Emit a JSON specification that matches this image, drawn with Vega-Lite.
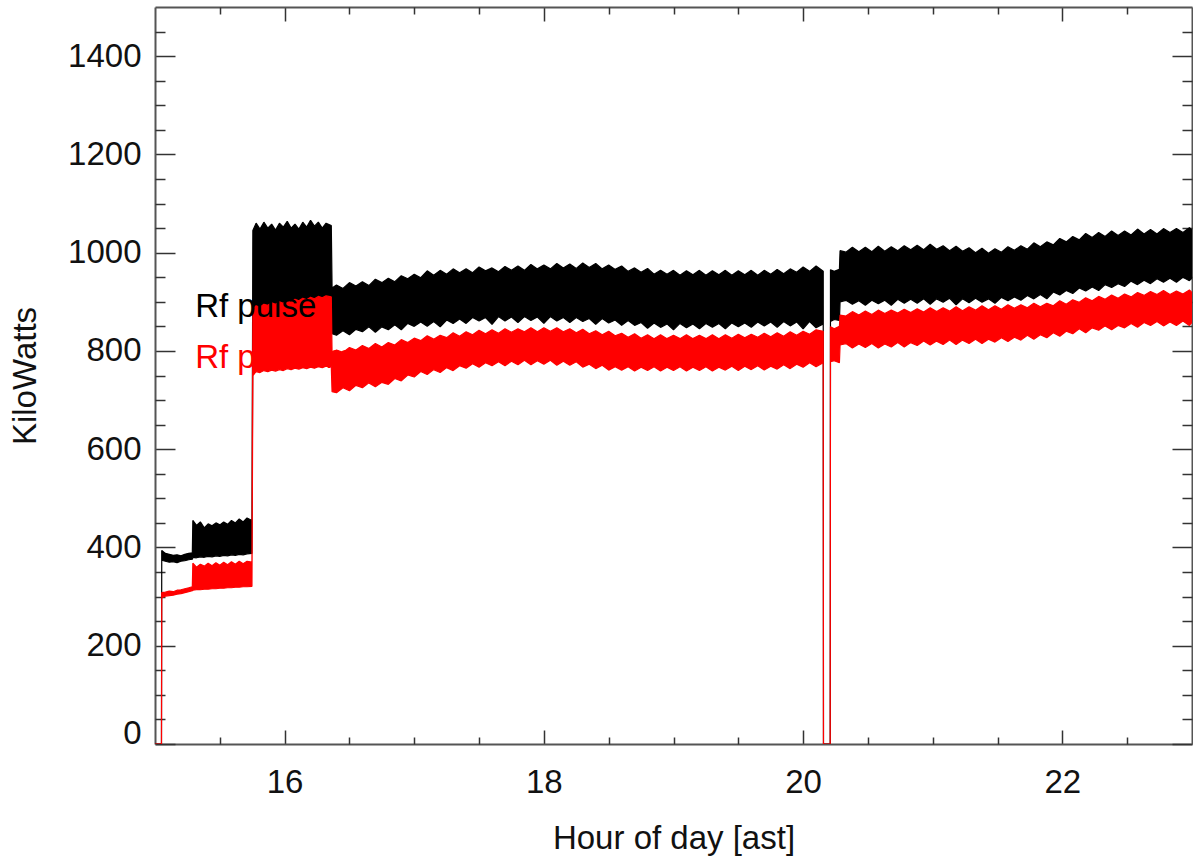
{
"$schema":"https://vega.github.io/schema/vega-lite/v6.json",
"width":1037,"height":737,
"autosize":{"type":"none"},
"padding":{"left":155,"top":7,"right":1,"bottom":117},
"background":"white",
"config":{"font":"Liberation Sans","view":{"stroke":null},"axis":{"grid":false,"domainColor":"#555","domainWidth":2,"tickColor":"#333","tickWidth":1.5,"labelColor":"#111","titleColor":"#111","labelFontSize":33,"titleFontSize":33,"titleFontWeight":"normal"}},
"datasets":{
"labels":[{"t":15.31,"v":869,"label":"Rf pulse","s":"peak"},{"t":15.31,"v":765,"label":"Rf pulse mean","s":"mean"}],
"dummy":[{"t":15,"v":0}],
"bands":[
{"s":"peak","t":15.0,"lo":0,"hi":0},{"s":"peak","t":15.05,"lo":0,"hi":0},{"s":"peak","t":15.052,"lo":374,"hi":394},{"s":"peak","t":15.08,"lo":372,"hi":388},{"s":"peak","t":15.11,"lo":370,"hi":386},{"s":"peak","t":15.14,"lo":371,"hi":384},{"s":"peak","t":15.17,"lo":369,"hi":385},{"s":"peak","t":15.2,"lo":372,"hi":383},{"s":"peak","t":15.23,"lo":373,"hi":386},{"s":"peak","t":15.26,"lo":375,"hi":388},{"s":"peak","t":15.288,"lo":376,"hi":389},
{"s":"peak","t":15.292,"lo":380,"hi":455},{"s":"peak","t":15.32,"lo":379,"hi":445},{"s":"peak","t":15.35,"lo":381,"hi":452},{"s":"peak","t":15.38,"lo":380,"hi":440},{"s":"peak","t":15.41,"lo":382,"hi":448},{"s":"peak","t":15.44,"lo":381,"hi":444},{"s":"peak","t":15.47,"lo":383,"hi":450},{"s":"peak","t":15.5,"lo":382,"hi":446},{"s":"peak","t":15.53,"lo":384,"hi":452},{"s":"peak","t":15.56,"lo":383,"hi":447},{"s":"peak","t":15.59,"lo":385,"hi":455},{"s":"peak","t":15.62,"lo":384,"hi":450},{"s":"peak","t":15.65,"lo":386,"hi":458},{"s":"peak","t":15.68,"lo":385,"hi":452},{"s":"peak","t":15.71,"lo":387,"hi":460},{"s":"peak","t":15.748,"lo":388,"hi":455},
{"s":"peak","t":15.755,"lo":860,"hi":1045},{"s":"peak","t":15.78,"lo":865,"hi":1060},{"s":"peak","t":15.81,"lo":866,"hi":1048},{"s":"peak","t":15.84,"lo":868,"hi":1062},{"s":"peak","t":15.87,"lo":870,"hi":1050},{"s":"peak","t":15.9,"lo":870,"hi":1058},{"s":"peak","t":15.93,"lo":872,"hi":1046},{"s":"peak","t":15.96,"lo":873,"hi":1060},{"s":"peak","t":15.99,"lo":874,"hi":1052},{"s":"peak","t":16.02,"lo":875,"hi":1064},{"s":"peak","t":16.05,"lo":876,"hi":1050},{"s":"peak","t":16.08,"lo":877,"hi":1058},{"s":"peak","t":16.11,"lo":878,"hi":1048},{"s":"peak","t":16.14,"lo":880,"hi":1062},{"s":"peak","t":16.17,"lo":880,"hi":1052},{"s":"peak","t":16.2,"lo":882,"hi":1066},{"s":"peak","t":16.23,"lo":882,"hi":1054},{"s":"peak","t":16.26,"lo":884,"hi":1062},{"s":"peak","t":16.29,"lo":885,"hi":1050},{"s":"peak","t":16.32,"lo":886,"hi":1060},{"s":"peak","t":16.36,"lo":886,"hi":1055},
{"s":"peak","t":16.366,"lo":835,"hi":928},{"s":"peak","t":16.4,"lo":832,"hi":934},{"s":"peak","t":16.45,"lo":841,"hi":927},{"s":"peak","t":16.5,"lo":833,"hi":939},{"s":"peak","t":16.55,"lo":844,"hi":932},{"s":"peak","t":16.6,"lo":839,"hi":941},{"s":"peak","t":16.65,"lo":849,"hi":933},{"s":"peak","t":16.7,"lo":838,"hi":946},{"s":"peak","t":16.75,"lo":849,"hi":939},{"s":"peak","t":16.8,"lo":843,"hi":948},{"s":"peak","t":16.85,"lo":853,"hi":941},{"s":"peak","t":16.9,"lo":843,"hi":953},{"s":"peak","t":16.95,"lo":856,"hi":947},{"s":"peak","t":17.0,"lo":850,"hi":956},{"s":"peak","t":17.05,"lo":859,"hi":949},{"s":"peak","t":17.1,"lo":850,"hi":963},{"s":"peak","t":17.15,"lo":860,"hi":954},{"s":"peak","t":17.2,"lo":849,"hi":964},{"s":"peak","t":17.25,"lo":863,"hi":956},{"s":"peak","t":17.3,"lo":856,"hi":967},{"s":"peak","t":17.35,"lo":865,"hi":959},{"s":"peak","t":17.4,"lo":856,"hi":967},{"s":"peak","t":17.45,"lo":868,"hi":959},{"s":"peak","t":17.5,"lo":861,"hi":971},{"s":"peak","t":17.55,"lo":868,"hi":963},{"s":"peak","t":17.6,"lo":854,"hi":969},{"s":"peak","t":17.65,"lo":870,"hi":961},{"s":"peak","t":17.7,"lo":861,"hi":972},{"s":"peak","t":17.75,"lo":869,"hi":964},{"s":"peak","t":17.8,"lo":858,"hi":973},{"s":"peak","t":17.85,"lo":870,"hi":964},{"s":"peak","t":17.9,"lo":862,"hi":976},{"s":"peak","t":17.95,"lo":869,"hi":967},{"s":"peak","t":18.0,"lo":856,"hi":975},{"s":"peak","t":18.05,"lo":870,"hi":967},{"s":"peak","t":18.1,"lo":861,"hi":978},{"s":"peak","t":18.15,"lo":868,"hi":969},{"s":"peak","t":18.2,"lo":858,"hi":977},{"s":"peak","t":18.25,"lo":868,"hi":968},{"s":"peak","t":18.3,"lo":860,"hi":979},{"s":"peak","t":18.35,"lo":866,"hi":970},{"s":"peak","t":18.4,"lo":854,"hi":978},{"s":"peak","t":18.45,"lo":866,"hi":967},{"s":"peak","t":18.5,"lo":857,"hi":975},{"s":"peak","t":18.55,"lo":863,"hi":966},{"s":"peak","t":18.6,"lo":852,"hi":973},{"s":"peak","t":18.65,"lo":862,"hi":962},{"s":"peak","t":18.7,"lo":852,"hi":969},{"s":"peak","t":18.75,"lo":858,"hi":960},{"s":"peak","t":18.8,"lo":846,"hi":968},{"s":"peak","t":18.85,"lo":857,"hi":956},{"s":"peak","t":18.9,"lo":848,"hi":964},{"s":"peak","t":18.95,"lo":855,"hi":956},{"s":"peak","t":19.0,"lo":843,"hi":964},{"s":"peak","t":19.05,"lo":856,"hi":954},{"s":"peak","t":19.1,"lo":847,"hi":963},{"s":"peak","t":19.15,"lo":855,"hi":955},{"s":"peak","t":19.2,"lo":845,"hi":964},{"s":"peak","t":19.25,"lo":856,"hi":954},{"s":"peak","t":19.3,"lo":848,"hi":963},{"s":"peak","t":19.35,"lo":856,"hi":955},{"s":"peak","t":19.4,"lo":845,"hi":964},{"s":"peak","t":19.45,"lo":857,"hi":954},{"s":"peak","t":19.5,"lo":849,"hi":963},{"s":"peak","t":19.55,"lo":857,"hi":955},{"s":"peak","t":19.6,"lo":848,"hi":964},{"s":"peak","t":19.65,"lo":859,"hi":954},{"s":"peak","t":19.7,"lo":851,"hi":964},{"s":"peak","t":19.75,"lo":859,"hi":956},{"s":"peak","t":19.8,"lo":848,"hi":966},{"s":"peak","t":19.85,"lo":860,"hi":957},{"s":"peak","t":19.9,"lo":851,"hi":967},{"s":"peak","t":19.95,"lo":859,"hi":960},{"s":"peak","t":20.0,"lo":845,"hi":971},{"s":"peak","t":20.05,"lo":860,"hi":962},{"s":"peak","t":20.1,"lo":847,"hi":973},{"s":"peak","t":20.155,"lo":855,"hi":962},
{"s":"peak","t":20.157,"lo":0,"hi":0},{"s":"peak","t":20.209,"lo":0,"hi":0},
{"s":"peak","t":20.211,"lo":860,"hi":965},{"s":"peak","t":20.24,"lo":864,"hi":962},{"s":"peak","t":20.28,"lo":862,"hi":966},
{"s":"peak","t":20.285,"lo":900,"hi":1004},{"s":"peak","t":20.33,"lo":903,"hi":1001},{"s":"peak","t":20.38,"lo":895,"hi":1011},{"s":"peak","t":20.43,"lo":902,"hi":1002},{"s":"peak","t":20.48,"lo":893,"hi":1011},{"s":"peak","t":20.53,"lo":903,"hi":1002},{"s":"peak","t":20.58,"lo":896,"hi":1013},{"s":"peak","t":20.63,"lo":903,"hi":1003},{"s":"peak","t":20.68,"lo":893,"hi":1012},{"s":"peak","t":20.73,"lo":905,"hi":1004},{"s":"peak","t":20.78,"lo":897,"hi":1014},{"s":"peak","t":20.83,"lo":905,"hi":1006},{"s":"peak","t":20.88,"lo":897,"hi":1015},{"s":"peak","t":20.93,"lo":906,"hi":1006},{"s":"peak","t":20.98,"lo":895,"hi":1017},{"s":"peak","t":21.03,"lo":906,"hi":1007},{"s":"peak","t":21.08,"lo":899,"hi":1014},{"s":"peak","t":21.13,"lo":907,"hi":1004},{"s":"peak","t":21.18,"lo":894,"hi":1013},{"s":"peak","t":21.23,"lo":906,"hi":1003},{"s":"peak","t":21.28,"lo":898,"hi":1010},{"s":"peak","t":21.33,"lo":907,"hi":1000},{"s":"peak","t":21.38,"lo":899,"hi":1009},{"s":"peak","t":21.43,"lo":906,"hi":999},{"s":"peak","t":21.48,"lo":897,"hi":1008},{"s":"peak","t":21.53,"lo":909,"hi":1001},{"s":"peak","t":21.58,"lo":902,"hi":1012},{"s":"peak","t":21.63,"lo":910,"hi":1005},{"s":"peak","t":21.68,"lo":903,"hi":1014},{"s":"peak","t":21.73,"lo":913,"hi":1007},{"s":"peak","t":21.78,"lo":906,"hi":1020},{"s":"peak","t":21.83,"lo":915,"hi":1012},{"s":"peak","t":21.88,"lo":906,"hi":1022},{"s":"peak","t":21.93,"lo":920,"hi":1016},{"s":"peak","t":21.98,"lo":914,"hi":1029},{"s":"peak","t":22.03,"lo":923,"hi":1022},{"s":"peak","t":22.08,"lo":917,"hi":1033},{"s":"peak","t":22.13,"lo":928,"hi":1026},{"s":"peak","t":22.18,"lo":922,"hi":1039},{"s":"peak","t":22.23,"lo":930,"hi":1031},{"s":"peak","t":22.28,"lo":923,"hi":1041},{"s":"peak","t":22.33,"lo":935,"hi":1033},{"s":"peak","t":22.38,"lo":929,"hi":1044},{"s":"peak","t":22.43,"lo":937,"hi":1035},{"s":"peak","t":22.48,"lo":931,"hi":1044},{"s":"peak","t":22.53,"lo":942,"hi":1036},{"s":"peak","t":22.58,"lo":935,"hi":1048},{"s":"peak","t":22.63,"lo":944,"hi":1038},{"s":"peak","t":22.68,"lo":937,"hi":1047},{"s":"peak","t":22.73,"lo":947,"hi":1038},{"s":"peak","t":22.78,"lo":940,"hi":1049},{"s":"peak","t":22.83,"lo":948,"hi":1041},{"s":"peak","t":22.88,"lo":940,"hi":1049},{"s":"peak","t":22.93,"lo":950,"hi":1041},{"s":"peak","t":22.98,"lo":943,"hi":1051},{"s":"peak","t":23.0,"lo":948,"hi":1046},
{"s":"mean","t":15.0,"lo":0,"hi":0},{"s":"mean","t":15.05,"lo":0,"hi":0},{"s":"mean","t":15.052,"lo":298,"hi":308},{"s":"mean","t":15.08,"lo":301,"hi":309},{"s":"mean","t":15.11,"lo":302,"hi":311},{"s":"mean","t":15.14,"lo":303,"hi":310},{"s":"mean","t":15.17,"lo":305,"hi":313},{"s":"mean","t":15.2,"lo":306,"hi":314},{"s":"mean","t":15.23,"lo":308,"hi":316},{"s":"mean","t":15.26,"lo":310,"hi":318},{"s":"mean","t":15.288,"lo":312,"hi":320},
{"s":"mean","t":15.292,"lo":313,"hi":368},{"s":"mean","t":15.32,"lo":314,"hi":360},{"s":"mean","t":15.35,"lo":314,"hi":366},{"s":"mean","t":15.38,"lo":315,"hi":362},{"s":"mean","t":15.41,"lo":315,"hi":368},{"s":"mean","t":15.44,"lo":316,"hi":363},{"s":"mean","t":15.47,"lo":316,"hi":369},{"s":"mean","t":15.5,"lo":317,"hi":364},{"s":"mean","t":15.53,"lo":317,"hi":370},{"s":"mean","t":15.56,"lo":318,"hi":365},{"s":"mean","t":15.59,"lo":318,"hi":371},{"s":"mean","t":15.62,"lo":319,"hi":366},{"s":"mean","t":15.65,"lo":319,"hi":372},{"s":"mean","t":15.68,"lo":320,"hi":367},{"s":"mean","t":15.71,"lo":320,"hi":372},{"s":"mean","t":15.748,"lo":321,"hi":370},
{"s":"mean","t":15.755,"lo":750,"hi":885},{"s":"mean","t":15.78,"lo":758,"hi":892},{"s":"mean","t":15.81,"lo":756,"hi":889},{"s":"mean","t":15.84,"lo":760,"hi":895},{"s":"mean","t":15.87,"lo":758,"hi":893},{"s":"mean","t":15.9,"lo":761,"hi":898},{"s":"mean","t":15.93,"lo":759,"hi":895},{"s":"mean","t":15.96,"lo":762,"hi":900},{"s":"mean","t":15.99,"lo":760,"hi":897},{"s":"mean","t":16.02,"lo":764,"hi":902},{"s":"mean","t":16.05,"lo":762,"hi":899},{"s":"mean","t":16.08,"lo":765,"hi":905},{"s":"mean","t":16.11,"lo":763,"hi":902},{"s":"mean","t":16.14,"lo":766,"hi":907},{"s":"mean","t":16.17,"lo":764,"hi":904},{"s":"mean","t":16.2,"lo":767,"hi":909},{"s":"mean","t":16.23,"lo":765,"hi":906},{"s":"mean","t":16.26,"lo":768,"hi":911},{"s":"mean","t":16.29,"lo":766,"hi":908},{"s":"mean","t":16.32,"lo":769,"hi":912},{"s":"mean","t":16.36,"lo":768,"hi":910},
{"s":"mean","t":16.366,"lo":717,"hi":796},{"s":"mean","t":16.4,"lo":715,"hi":802},{"s":"mean","t":16.45,"lo":725,"hi":797},{"s":"mean","t":16.5,"lo":719,"hi":807},{"s":"mean","t":16.55,"lo":730,"hi":802},{"s":"mean","t":16.6,"lo":725,"hi":811},{"s":"mean","t":16.65,"lo":735,"hi":805},{"s":"mean","t":16.7,"lo":727,"hi":815},{"s":"mean","t":16.75,"lo":736,"hi":808},{"s":"mean","t":16.8,"lo":732,"hi":817},{"s":"mean","t":16.85,"lo":744,"hi":812},{"s":"mean","t":16.9,"lo":739,"hi":823},{"s":"mean","t":16.95,"lo":751,"hi":817},{"s":"mean","t":17.0,"lo":747,"hi":826},{"s":"mean","t":17.05,"lo":758,"hi":821},{"s":"mean","t":17.1,"lo":752,"hi":831},{"s":"mean","t":17.15,"lo":762,"hi":824},{"s":"mean","t":17.2,"lo":756,"hi":832},{"s":"mean","t":17.25,"lo":766,"hi":827},{"s":"mean","t":17.3,"lo":760,"hi":837},{"s":"mean","t":17.35,"lo":770,"hi":830},{"s":"mean","t":17.4,"lo":765,"hi":839},{"s":"mean","t":17.45,"lo":774,"hi":833},{"s":"mean","t":17.5,"lo":767,"hi":842},{"s":"mean","t":17.55,"lo":776,"hi":835},{"s":"mean","t":17.6,"lo":770,"hi":843},{"s":"mean","t":17.65,"lo":778,"hi":836},{"s":"mean","t":17.7,"lo":770,"hi":845},{"s":"mean","t":17.75,"lo":779,"hi":838},{"s":"mean","t":17.8,"lo":772,"hi":845},{"s":"mean","t":17.85,"lo":781,"hi":839},{"s":"mean","t":17.9,"lo":772,"hi":847},{"s":"mean","t":17.95,"lo":780,"hi":839},{"s":"mean","t":18.0,"lo":773,"hi":847},{"s":"mean","t":18.05,"lo":781,"hi":840},{"s":"mean","t":18.1,"lo":771,"hi":847},{"s":"mean","t":18.15,"lo":779,"hi":839},{"s":"mean","t":18.2,"lo":771,"hi":845},{"s":"mean","t":18.25,"lo":778,"hi":837},{"s":"mean","t":18.3,"lo":767,"hi":844},{"s":"mean","t":18.35,"lo":773,"hi":835},{"s":"mean","t":18.4,"lo":764,"hi":841},{"s":"mean","t":18.45,"lo":771,"hi":833},{"s":"mean","t":18.5,"lo":761,"hi":840},{"s":"mean","t":18.55,"lo":768,"hi":831},{"s":"mean","t":18.6,"lo":761,"hi":836},{"s":"mean","t":18.65,"lo":768,"hi":828},{"s":"mean","t":18.7,"lo":759,"hi":835},{"s":"mean","t":18.75,"lo":767,"hi":826},{"s":"mean","t":18.8,"lo":760,"hi":833},{"s":"mean","t":18.85,"lo":768,"hi":825},{"s":"mean","t":18.9,"lo":759,"hi":833},{"s":"mean","t":18.95,"lo":767,"hi":825},{"s":"mean","t":19.0,"lo":760,"hi":832},{"s":"mean","t":19.05,"lo":768,"hi":825},{"s":"mean","t":19.1,"lo":759,"hi":833},{"s":"mean","t":19.15,"lo":767,"hi":825},{"s":"mean","t":19.2,"lo":760,"hi":832},{"s":"mean","t":19.25,"lo":768,"hi":825},{"s":"mean","t":19.3,"lo":759,"hi":833},{"s":"mean","t":19.35,"lo":767,"hi":825},{"s":"mean","t":19.4,"lo":761,"hi":833},{"s":"mean","t":19.45,"lo":769,"hi":826},{"s":"mean","t":19.5,"lo":760,"hi":834},{"s":"mean","t":19.55,"lo":769,"hi":827},{"s":"mean","t":19.6,"lo":762,"hi":834},{"s":"mean","t":19.65,"lo":770,"hi":828},{"s":"mean","t":19.7,"lo":761,"hi":836},{"s":"mean","t":19.75,"lo":769,"hi":829},{"s":"mean","t":19.8,"lo":763,"hi":837},{"s":"mean","t":19.85,"lo":772,"hi":830},{"s":"mean","t":19.9,"lo":764,"hi":839},{"s":"mean","t":19.95,"lo":773,"hi":832},{"s":"mean","t":20.0,"lo":767,"hi":840},{"s":"mean","t":20.05,"lo":776,"hi":834},{"s":"mean","t":20.1,"lo":768,"hi":843},{"s":"mean","t":20.155,"lo":776,"hi":840},
{"s":"mean","t":20.157,"lo":0,"hi":0},{"s":"mean","t":20.209,"lo":0,"hi":0},
{"s":"mean","t":20.211,"lo":778,"hi":849},{"s":"mean","t":20.24,"lo":780,"hi":845},{"s":"mean","t":20.28,"lo":776,"hi":850},
{"s":"mean","t":20.285,"lo":812,"hi":873},{"s":"mean","t":20.33,"lo":815,"hi":871},{"s":"mean","t":20.38,"lo":806,"hi":880},{"s":"mean","t":20.43,"lo":814,"hi":873},{"s":"mean","t":20.48,"lo":807,"hi":881},{"s":"mean","t":20.53,"lo":815,"hi":874},{"s":"mean","t":20.58,"lo":806,"hi":883},{"s":"mean","t":20.63,"lo":814,"hi":876},{"s":"mean","t":20.68,"lo":808,"hi":883},{"s":"mean","t":20.73,"lo":817,"hi":877},{"s":"mean","t":20.78,"lo":808,"hi":885},{"s":"mean","t":20.83,"lo":817,"hi":878},{"s":"mean","t":20.88,"lo":811,"hi":886},{"s":"mean","t":20.93,"lo":820,"hi":879},{"s":"mean","t":20.98,"lo":812,"hi":888},{"s":"mean","t":21.03,"lo":820,"hi":880},{"s":"mean","t":21.08,"lo":813,"hi":888},{"s":"mean","t":21.13,"lo":822,"hi":881},{"s":"mean","t":21.18,"lo":813,"hi":890},{"s":"mean","t":21.23,"lo":822,"hi":882},{"s":"mean","t":21.28,"lo":815,"hi":890},{"s":"mean","t":21.33,"lo":824,"hi":883},{"s":"mean","t":21.38,"lo":815,"hi":892},{"s":"mean","t":21.43,"lo":824,"hi":884},{"s":"mean","t":21.48,"lo":818,"hi":892},{"s":"mean","t":21.53,"lo":827,"hi":885},{"s":"mean","t":21.58,"lo":819,"hi":894},{"s":"mean","t":21.63,"lo":828,"hi":887},{"s":"mean","t":21.68,"lo":822,"hi":894},{"s":"mean","t":21.73,"lo":832,"hi":888},{"s":"mean","t":21.78,"lo":824,"hi":897},{"s":"mean","t":21.83,"lo":833,"hi":890},{"s":"mean","t":21.88,"lo":827,"hi":897},{"s":"mean","t":21.93,"lo":837,"hi":892},{"s":"mean","t":21.98,"lo":830,"hi":902},{"s":"mean","t":22.03,"lo":840,"hi":895},{"s":"mean","t":22.08,"lo":835,"hi":904},{"s":"mean","t":22.13,"lo":845,"hi":899},{"s":"mean","t":22.18,"lo":837,"hi":908},{"s":"mean","t":22.23,"lo":847,"hi":902},{"s":"mean","t":22.28,"lo":842,"hi":911},{"s":"mean","t":22.33,"lo":851,"hi":905},{"s":"mean","t":22.38,"lo":843,"hi":914},{"s":"mean","t":22.43,"lo":852,"hi":907},{"s":"mean","t":22.48,"lo":847,"hi":916},{"s":"mean","t":22.53,"lo":856,"hi":910},{"s":"mean","t":22.58,"lo":848,"hi":919},{"s":"mean","t":22.63,"lo":858,"hi":913},{"s":"mean","t":22.68,"lo":852,"hi":921},{"s":"mean","t":22.73,"lo":860,"hi":915},{"s":"mean","t":22.78,"lo":851,"hi":923},{"s":"mean","t":22.83,"lo":859,"hi":915},{"s":"mean","t":22.88,"lo":852,"hi":922},{"s":"mean","t":22.93,"lo":861,"hi":916},{"s":"mean","t":22.98,"lo":852,"hi":924},{"s":"mean","t":23.0,"lo":858,"hi":919}
]},
"resolve":{"scale":{"x":"shared","y":"shared"},"axis":{"x":"independent","y":"independent"}},
"layer":[
{"data":{"name":"bands"},
 "transform":[{"filter":"datum.s === 'peak'"}],
 "mark":{"type":"area","color":"#000000","stroke":"#000000","strokeWidth":1.2,"strokeJoin":"bevel","clip":true},
 "encoding":{
  "x":{"field":"t","type":"quantitative","scale":{"domain":[15,23],"nice":false,"zero":false},
   "axis":{"orient":"bottom","values":[16,18,20,22],"tickSize":-14,"labelPadding":36,"labelBaseline":"top","labelFlush":false,"title":"Hour of day [ast]","titleX":518.5,"titleY":94,"titleBaseline":"middle","titleAlign":"center"}},
  "y":{"field":"lo","type":"quantitative","scale":{"domain":[0,1500],"nice":false,"zero":false},
   "axis":{"orient":"left","values":[0,200,400,600,800,1000,1200,1400],"format":"d","tickSize":-20,"labelPadding":34,"labelFlush":true,"labelFlushOffset":6,"title":"KiloWatts","titleX":-130,"titleY":368.5,"titleBaseline":"middle","titleAlign":"center","titleAngle":270}},
  "y2":{"field":"hi"}}},
{"data":{"name":"bands"},
 "transform":[{"filter":"datum.s === 'mean'"}],
 "mark":{"type":"area","color":"#ff0000","stroke":"#ff0000","strokeWidth":1.2,"strokeJoin":"bevel","clip":true},
 "encoding":{
  "x":{"field":"t","type":"quantitative","scale":{"domain":[15,23],"nice":false,"zero":false},
   "axis":{"orient":"top","values":[16,18,20,22],"tickSize":-14,"labels":false,"title":null}},
  "y":{"field":"lo","type":"quantitative","scale":{"domain":[0,1500],"nice":false,"zero":false},
   "axis":{"orient":"right","values":[0,200,400,600,800,1000,1200,1400],"tickSize":-20,"labels":false,"title":null}},
  "y2":{"field":"hi"}}},
{"data":{"name":"labels"},
 "mark":{"type":"text","align":"left","baseline":"alphabetic","fontSize":33,"font":"Liberation Sans"},
 "encoding":{
  "x":{"field":"t","type":"quantitative","scale":{"domain":[15,23],"nice":false,"zero":false},"axis":null},
  "y":{"field":"v","type":"quantitative","scale":{"domain":[0,1500],"nice":false,"zero":false},"axis":null},
  "text":{"field":"label"},
  "color":{"field":"s","type":"nominal","scale":{"domain":["peak","mean"],"range":["#000000","#ff0000"]},"legend":null}}},
{"data":{"name":"dummy"},
 "mark":{"type":"point","opacity":0},
 "encoding":{
  "x":{"field":"t","type":"quantitative","scale":{"domain":[15,23],"nice":false,"zero":false},
   "axis":{"orient":"bottom","values":[15.5,16.5,17,17.5,18.5,19,19.5,20.5,21,21.5,22.5],"tickSize":-7,"labels":false,"domain":false,"title":null}},
  "y":{"field":"v","type":"quantitative","scale":{"domain":[0,1500],"nice":false,"zero":false},
   "axis":{"orient":"left","values":[50,100,150,250,300,350,450,500,550,650,700,750,850,900,950,1050,1100,1150,1250,1300,1350,1450],"tickSize":-10,"labels":false,"domain":false,"title":null}}}},
{"data":{"name":"dummy"},
 "mark":{"type":"point","opacity":0},
 "encoding":{
  "x":{"field":"t","type":"quantitative","scale":{"domain":[15,23],"nice":false,"zero":false},
   "axis":{"orient":"top","values":[15.5,16.5,17,17.5,18.5,19,19.5,20.5,21,21.5,22.5],"tickSize":-7,"labels":false,"domain":false,"title":null}},
  "y":{"field":"v","type":"quantitative","scale":{"domain":[0,1500],"nice":false,"zero":false},
   "axis":{"orient":"right","values":[50,100,150,250,300,350,450,500,550,650,700,750,850,900,950,1050,1100,1150,1250,1300,1350,1450],"tickSize":-10,"labels":false,"domain":false,"title":null}}}}
]
}
